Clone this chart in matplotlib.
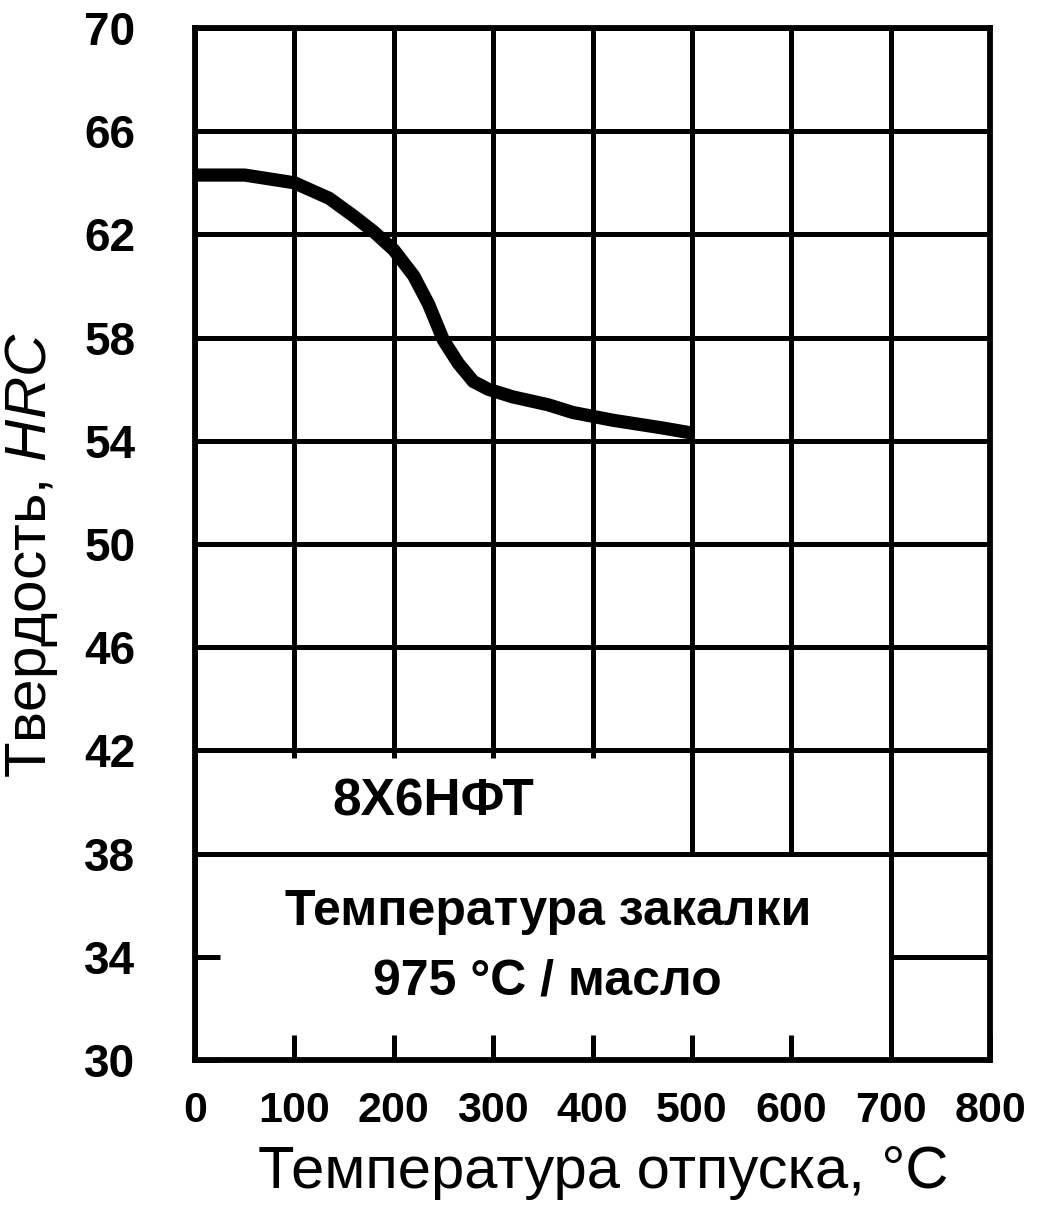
import matplotlib
matplotlib.use("Agg")
import matplotlib.pyplot as plt
from matplotlib.patches import Rectangle

# ---- data ----
temper_temp = [0, 50, 100, 135, 160, 180, 200, 220, 235, 250, 265, 280, 295, 320, 355, 380, 420, 470, 500]
hardness = [64.3, 64.3, 64.0, 63.4, 62.7, 62.1, 61.4, 60.4, 59.3, 57.9, 57.0, 56.3, 56.0, 55.7, 55.4, 55.1, 54.8, 54.5, 54.3]
x_ticks = [0, 100, 200, 300, 400, 500, 600, 700, 800]
y_ticks = [30, 34, 38, 42, 46, 50, 54, 58, 62, 66, 70]
steel_label = "8Х6НФТ"
quench_line1 = "Температура закалки"
quench_line2 = "975 °С / масло"
x_label = "Температура отпуска, °С"
y_label = "Твердость, $\\mathit{HRC}$"

plt.rcParams['mathtext.fontset'] = 'custom'
plt.rcParams['mathtext.rm'] = 'Liberation Sans'
plt.rcParams['mathtext.it'] = 'Liberation Sans:italic'

LW = 3.6
fig = plt.figure(figsize=(10.4, 12.1), dpi=100)
ax = fig.add_axes([195/1040, 1 - 1060/1210, 795/1040, 1032/1210])
ax.set_xlim(0, 800)
ax.set_ylim(30, 70)

# grid
ax.vlines(x_ticks, 30, 70, colors='black', linewidth=LW, zorder=1, capstyle='butt')
ax.hlines(y_ticks, 0, 800, colors='black', linewidth=LW, zorder=1, capstyle='butt')

# white label boxes
ax.add_patch(Rectangle((0, 38), 500, 4, facecolor='white', edgecolor='black', linewidth=LW, zorder=2))
ax.add_patch(Rectangle((0, 30), 700, 8, facecolor='white', edgecolor='black', linewidth=LW, zorder=2))
ax.vlines(x_ticks[1:5], 41.7, 42, colors='black', linewidth=LW, zorder=2.1)

# curve
ax.plot(temper_temp, hardness, color='black', linewidth=9.5, solid_capstyle='butt',
        solid_joinstyle='round', zorder=3)

# axes styling
ax.set_axisbelow(False)
for s in ax.spines.values():
    s.set_linewidth(4.2)
    s.set_zorder(2.6)
ax.set_xticks(x_ticks)
ax.set_yticks(y_ticks)
ax.tick_params(axis='both', direction='in', length=18, width=LW, color='black')
ax.tick_params(axis='y', pad=43)
ax.tick_params(axis='x', pad=22)
for lab in ax.get_yticklabels():
    lab.set_fontfamily(['Liberation Sans', 'DejaVu Sans'])
    lab.set_fontweight('bold')
    lab.set_fontsize(33)
for lab in ax.get_xticklabels():
    lab.set_fontfamily(['Liberation Sans', 'DejaVu Sans'])
    lab.set_fontweight('bold')
    lab.set_fontsize(31)

# annotations in boxes
ax.text(240, 40.0, steel_label, ha='center', va='center', fontsize=37, fontweight='bold',
        family=['Liberation Sans', 'DejaVu Sans'], zorder=4)
ax.text(355, 35.75, quench_line1, ha='center', va='center', fontsize=36, fontweight='bold',
        family=['Liberation Sans', 'DejaVu Sans'], zorder=4)
ax.text(355, 33.05, quench_line2, ha='center', va='center', fontsize=36, fontweight='bold',
        family=['Liberation Sans', 'DejaVu Sans'], zorder=4)

# axis labels
fig.text(603/1040, 1 - 1172/1210, x_label, ha='center', va='center', fontsize=43,
         family=['Liberation Sans', 'DejaVu Sans'])
fig.text(32/1040, 1 - 555/1210, y_label, ha='center', va='center', rotation=90, fontsize=42,
         family=['Liberation Sans', 'DejaVu Sans'])

fig.savefig("out.png", dpi=100, facecolor='white')
